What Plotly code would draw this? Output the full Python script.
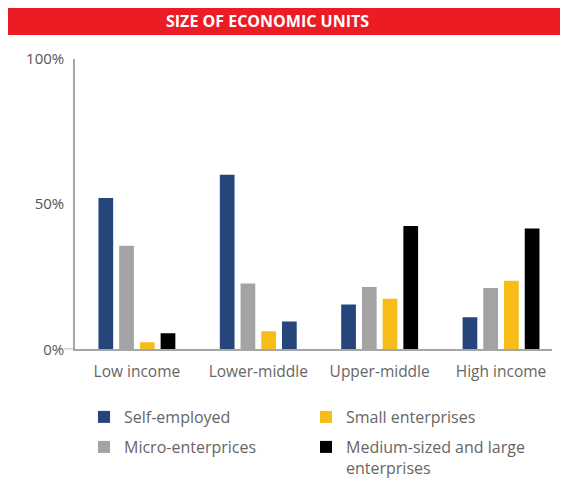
import plotly.graph_objects as go

categories = ["Low income", "Lower-middle", "Upper-middle", "High income"]
self_employed = [52, 60, 15.4, 11]
micro = [35.6, 22.6, 21.4, 21.1]
small = [2.4, 6.2, 17.4, 23.6]
medium_large = [5.5, 9.6, 42.4, 41.5]
y_ticks = [0, 50, 100]
y_ticktext = ["0%", "50%", "100%"]

series_names = ["Self-employed", "Micro-enterprices", "Small enterprises",
                "Medium-sized and large<br>enterprises"]
NAVY = "#26457A"
GRAY = "#A3A3A3"
YELLOW = "#F7BC17"
BLACK = "#000000"
medium_colors = [BLACK, NAVY, BLACK, BLACK]
AXIS = "#A6A6A6"

x = list(range(len(categories)))
fig = go.Figure()
fig.add_bar(x=x, y=self_employed, name=series_names[0], marker_color=NAVY, legend="legend")
fig.add_bar(x=x, y=micro, name=series_names[1], marker_color=GRAY, legend="legend2")
fig.add_bar(x=x, y=small, name=series_names[2], marker_color=YELLOW, legend="legend")
fig.add_bar(x=x, y=medium_large, name=series_names[3], marker_color=medium_colors, legend="legend2")
fig.update_traces(marker_line_width=0)

# page has an 8px body margin; the figure is sized to fit the window
OFF = 8
W, H = 568 - OFF, 483 - OFF

def px(xp):
    return (xp - OFF) / W

def py(yp):
    return (H - (yp - OFF)) / H

legend_common = dict(orientation="h", xanchor="left", yanchor="top",
                     font=dict(family="Open Sans", size=16, color="#666666"),
                     entrywidth=177, entrywidthmode="pixels", valign="top",
                     bgcolor="rgba(0,0,0,0)", itemclick=False, itemdoubleclick=False)

fig.update_layout(
    width=W, height=H,
    margin=dict(l=0, r=0, t=0, b=0, autoexpand=False),
    plot_bgcolor="white", paper_bgcolor="white",
    barmode="group", bargap=0.317, bargroupgap=0.29,
    showlegend=True,
    legend=dict(x=px(84), y=py(400), **legend_common),
    legend2=dict(x=px(84), y=py(430), **legend_common),
    xaxis=dict(domain=[px(75), px(552)], range=[-0.51, 3.42],
               tickmode="array", tickvals=x, ticktext=categories,
               showline=True, linecolor=AXIS, linewidth=1.5, ticks="",
               ticklabelstandoff=7,
               tickfont=dict(family="Open Sans", size=15.5, color="#666666"),
               showgrid=False, zeroline=False, fixedrange=True),
    yaxis=dict(domain=[py(349.3), py(58.5)], range=[0, 100],
               tickmode="array", tickvals=y_ticks, ticktext=y_ticktext,
               showline=True, linecolor=AXIS, linewidth=1.5, ticks="",
               ticklabelstandoff=6,
               tickfont=dict(family="Open Sans", size=15, color="#555555"),
               showgrid=False, zeroline=False, fixedrange=True),
    shapes=[dict(type="rect", xref="paper", yref="paper",
                 x0=px(6), x1=px(570), y0=py(35), y1=py(7),
                 fillcolor="#ED1C24", line_width=0, layer="below"),
            dict(type="line", xref="paper", yref="y",
                 x0=px(64), x1=px(75), y0=0, y1=0,
                 line=dict(color=AXIS, width=1.5))],
    annotations=[dict(text="<b>SIZE OF ECONOMIC UNITS</b>", xref="paper", yref="paper",
                      x=px(267.5), y=py(21), xanchor="center", yanchor="middle",
                      showarrow=False,
                      font=dict(family="Open Sans", size=16, color="white"))],
)

fig.write_html("out.html")
